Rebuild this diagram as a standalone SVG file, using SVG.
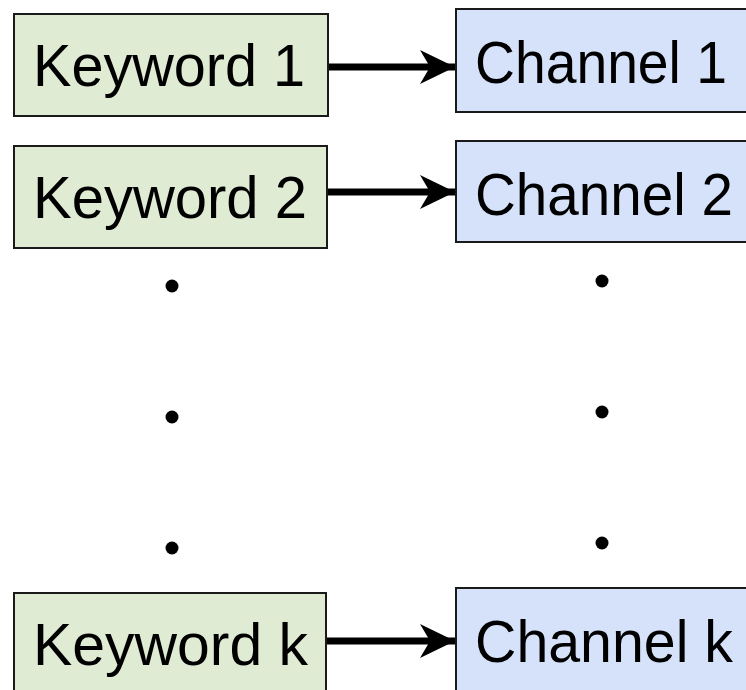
<svg xmlns="http://www.w3.org/2000/svg" width="746" height="690" viewBox="0 0 746 690">
  <style>
    .kw { fill: #e0ebd4; stroke: #1a1a1a; stroke-width: 2; }
    .ch { fill: #d5e2f9; stroke: #1a1a1a; stroke-width: 2; }
    .lbl { font-family: "Liberation Sans", "Open Sans", sans-serif; font-size: 60px; fill: #000; }
    .lbl.narrow { font-size: 59px; }
    .wire { stroke: #000; stroke-width: 7; fill: none; }
    .dot { fill: #000; }
  </style>
  <defs>
    <marker id="head" markerUnits="userSpaceOnUse" markerWidth="36" markerHeight="36" viewBox="0 0 36 36" refX="35" refY="18" orient="auto">
      <path d="M0,1 L35,18 L0,35 L10,18 Z" fill="#000"/>
    </marker>
  </defs>
  <rect width="746" height="690" fill="#fff"/>

  <g id="keyword-1">
    <rect class="kw" x="14" y="14" width="314" height="102"/>
    <text class="lbl" x="33" y="86" textLength="272" lengthAdjust="spacingAndGlyphs">Keyword 1</text>
  </g>
  <g id="keyword-2">
    <rect class="kw" x="14" y="146" width="313" height="102"/>
    <text class="lbl" x="33" y="218" textLength="274" lengthAdjust="spacingAndGlyphs">Keyword 2</text>
  </g>
  <g id="keyword-k">
    <rect class="kw" x="14" y="593" width="312" height="99"/>
    <text class="lbl" x="33" y="665" textLength="275" lengthAdjust="spacingAndGlyphs">Keyword k</text>
  </g>

  <g id="channel-1">
    <rect class="ch" x="456" y="9" width="292" height="103"/>
    <text class="lbl narrow" x="475" y="83" textLength="252" lengthAdjust="spacingAndGlyphs">Channel 1</text>
  </g>
  <g id="channel-2">
    <rect class="ch" x="456" y="141" width="292" height="101"/>
    <text class="lbl narrow" x="475" y="215" textLength="258" lengthAdjust="spacingAndGlyphs">Channel 2</text>
  </g>
  <g id="channel-k">
    <rect class="ch" x="456" y="588" width="292" height="104"/>
    <text class="lbl narrow" x="475" y="662" textLength="258" lengthAdjust="spacingAndGlyphs">Channel k</text>
  </g>

  <g id="ellipsis-left">
    <circle class="dot" cx="172" cy="286" r="6.5"/>
    <circle class="dot" cx="172" cy="417" r="6.5"/>
    <circle class="dot" cx="172" cy="548" r="6.5"/>
  </g>
  <g id="ellipsis-right">
    <circle class="dot" cx="602" cy="281" r="6.5"/>
    <circle class="dot" cx="602" cy="412" r="6.5"/>
    <circle class="dot" cx="602" cy="543" r="6.5"/>
  </g>

  <g id="connectors">
    <line class="wire" x1="329" y1="67" x2="455" y2="67" marker-end="url(#head)"/>
    <line class="wire" x1="328" y1="192" x2="455" y2="192" marker-end="url(#head)"/>
    <line class="wire" x1="327" y1="641" x2="455" y2="641" marker-end="url(#head)"/>
  </g>
</svg>
